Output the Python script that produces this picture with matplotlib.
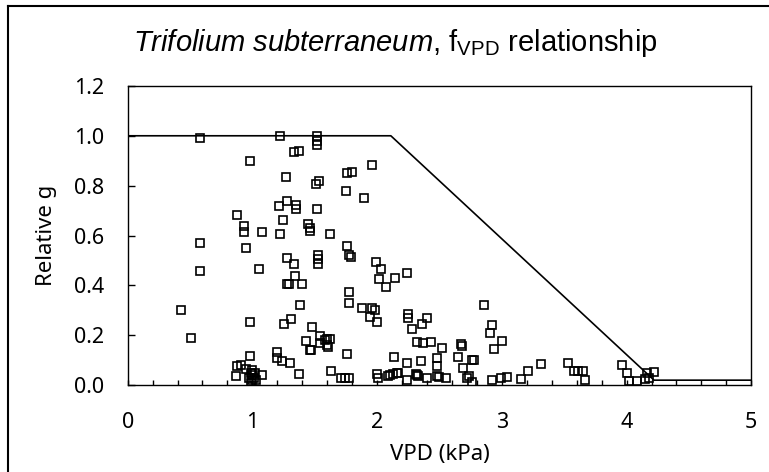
import matplotlib
matplotlib.use("Agg")
import matplotlib.pyplot as plt
from matplotlib.lines import Line2D
from matplotlib.ticker import MultipleLocator

plt.rcParams['mathtext.fontset'] = 'custom'
plt.rcParams['mathtext.rm'] = 'Liberation Sans'
plt.rcParams['mathtext.it'] = 'Liberation Sans:italic'

# fVPD relationship (piecewise line)
line_vpd = [0, 2.11, 4.22, 5]
line_g = [1.0, 1.0, 0.02, 0.02]

# observed points (VPD kPa, relative g)
obs_vpd = [0.43, 0.505, 0.58, 0.58, 0.58, 0.866, 0.88, 0.88, 0.91, 0.93,
           0.935, 0.946, 0.95, 0.98, 0.98, 0.98, 0.97, 0.99, 1.0, 1.0,
           1.01, 1.02, 1.0, 0.99, 1.03, 1.05, 1.08, 1.08, 1.195, 1.195,
           1.21, 1.22, 1.22, 1.24, 1.245, 1.25, 1.27, 1.28, 1.28, 1.28,
           1.29, 1.30, 1.31, 1.33, 1.33, 1.34, 1.35, 1.35, 1.37, 1.37,
           1.38, 1.40, 1.43, 1.445, 1.46, 1.465, 1.46, 1.47, 1.475, 1.51,
           1.515, 1.515, 1.515, 1.515, 1.53, 1.53, 1.53, 1.535, 1.54, 1.54,
           1.58, 1.595, 1.595, 1.61, 1.62, 1.62, 1.63, 1.71, 1.74, 1.75,
           1.756, 1.76, 1.76, 1.775, 1.775, 1.775, 1.775, 1.79, 1.80, 1.876,
           1.895, 1.94, 1.957, 1.96, 1.98, 1.99, 2.0, 2.0, 2.01, 2.015,
           2.035, 2.07, 2.09, 2.10, 2.13, 2.135, 2.14, 2.16, 2.17, 2.24,
           2.24, 2.24, 2.25, 2.25, 2.28, 2.31, 2.32, 2.32, 2.33, 2.35,
           2.36, 2.37, 2.40, 2.40, 2.43, 2.48, 2.48, 2.48, 2.50, 2.52,
           2.55, 2.65, 2.67, 2.68, 2.69, 2.72, 2.74, 2.76, 2.76, 2.78,
           2.86, 2.905, 2.92, 2.92, 2.94, 2.99, 3.0, 3.04, 3.15, 3.21,
           3.31, 3.53, 3.58, 3.61, 3.65, 3.67, 3.96, 4.0, 4.02, 4.08,
           4.15, 4.16, 4.18, 4.22]
obs_g = [0.30, 0.189, 0.99, 0.572, 0.457, 0.036, 0.683, 0.076, 0.08, 0.64,
         0.615, 0.548, 0.065, 0.90, 0.255, 0.116, 0.03, 0.05, 0.02, 0.04,
         0.03, 0.05, 0.06, 0.01, 0.02, 0.465, 0.614, 0.04, 0.131, 0.108,
         0.718, 0.999, 0.606, 0.098, 0.663, 0.247, 0.833, 0.738, 0.51, 0.405,
         0.405, 0.087, 0.266, 0.936, 0.485, 0.437, 0.722, 0.706, 0.938, 0.044,
         0.321, 0.405, 0.176, 0.645, 0.63, 0.62, 0.14, 0.14, 0.234, 0.805,
         0.999, 0.98, 0.962, 0.705, 0.521, 0.504, 0.485, 0.82, 0.198, 0.17,
         0.183, 0.187, 0.16, 0.154, 0.184, 0.606, 0.057, 0.027, 0.027, 0.78,
         0.559, 0.849, 0.123, 0.521, 0.374, 0.33, 0.027, 0.515, 0.856, 0.31,
         0.75, 0.274, 0.31, 0.882, 0.30, 0.495, 0.255, 0.044, 0.027, 0.424,
         0.465, 0.394, 0.036, 0.04, 0.044, 0.111, 0.428, 0.05, 0.05, 0.448,
         0.087, 0.02, 0.284, 0.27, 0.225, 0.044, 0.174, 0.04, 0.036, 0.098,
         0.247, 0.17, 0.27, 0.027, 0.174, 0.107, 0.077, 0.036, 0.034, 0.147,
         0.027, 0.111, 0.164, 0.158, 0.067, 0.027, 0.036, 0.10, 0.014, 0.10,
         0.321, 0.211, 0.243, 0.02, 0.144, 0.027, 0.176, 0.031, 0.024, 0.057,
         0.083, 0.087, 0.057, 0.055, 0.056, 0.02, 0.08, 0.047, 0.018, 0.016,
         0.024, 0.047, 0.03, 0.053]

fig = plt.figure(figsize=(7.69, 4.72), dpi=100)
ax = fig.add_axes([0.166, 0.184, 0.811, 0.634])

ax.plot(line_vpd, line_g, color='black', lw=1.2, zorder=2)
ax.plot(obs_vpd, obs_g, 's', ms=5.8, mfc='none', mec='black', mew=1.2, zorder=3)

ax.set_xlim(0, 5)
ax.set_ylim(0, 1.2)
ax.xaxis.set_major_locator(MultipleLocator(1))
ax.xaxis.set_minor_locator(MultipleLocator(0.2))
ax.set_yticks([0, 0.2, 0.4, 0.6, 0.8, 1.0, 1.2])
ax.set_yticklabels(['0.0', '0.2', '0.4', '0.6', '0.8', '1.0', '1.2'])

ax.tick_params(axis='x', which='both', direction='in', length=3.5, width=1.0,
               pad=19, labelsize=15.5)
ax.tick_params(axis='y', which='major', direction='in', length=5, width=1.0,
               pad=17, labelsize=15.5)
for lab in ax.get_xticklabels() + ax.get_yticklabels():
    lab.set_fontfamily('Noto Sans')
for sp in ax.spines.values():
    sp.set_linewidth(1.0)

ax.set_xlabel('VPD (kPa)', fontfamily='Noto Sans', fontsize=16, labelpad=8)
ax.set_ylabel('Relative g', fontfamily='Noto Sans', fontsize=16, labelpad=12)

fig.text(0.514, 0.893,
         r'$\mathit{Trifolium\ subterraneum}$, f$_\mathrm{VPD}$ relationship',
         ha='center', va='baseline', fontfamily='Liberation Sans', fontsize=21)

# outer chart border (cropped on right and bottom)
fig.add_artist(Line2D([8 / 769, 8 / 769], [0, 1 - 5.7 / 472], transform=fig.transFigure,
                      color='black', lw=1.5))
fig.add_artist(Line2D([8 / 769, 1], [1 - 5.7 / 472, 1 - 5.7 / 472], transform=fig.transFigure,
                      color='black', lw=1.5))

fig.savefig('out.png', dpi=100)
